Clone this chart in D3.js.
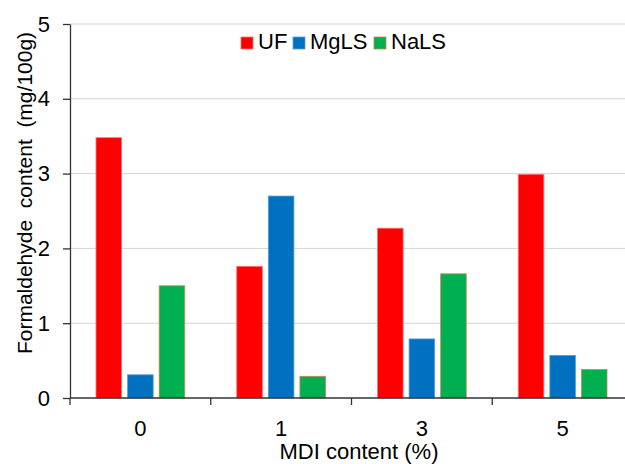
<!DOCTYPE html>
<meta charset="utf-8">
<style>
body { margin: 0; background: #fff; }
text { font-family: "Liberation Sans", Arial, sans-serif; fill: #000; }
.grid line { stroke: #d4d4d4; stroke-width: 1px; }
.axis path, .axis line { stroke: #333; stroke-width: 1.3px; }
</style>
<svg width="625" height="464"></svg>
<script src="https://cdn.jsdelivr.net/npm/d3@7"></script>
<script>

var categories = ["0", "1", "3", "5"];
var series = ["UF", "MgLS", "NaLS"];
var ufValues = [3.48, 1.76, 2.27, 2.99];
var mglsValues = [0.31, 2.70, 0.79, 0.57];
var nalsValues = [1.50, 0.29, 1.66, 0.38];
var yTicks = [0, 1, 2, 3, 4, 5];

var colors = { UF: "#ff0000", MgLS: "#0070c0", NaLS: "#00b050" };
var strokes = { UF: "#ff7070", MgLS: "#5a9fd6", NaLS: "#c8874a" };

var svg = d3.select("svg");
var mLeft = 70, mRight = 633, mTop = 24, mBottom = 398;

var x = d3.scaleBand().domain(categories).range([mLeft, mRight]).padding(0);
var xs = d3.scaleBand().domain(series).range([26, x.bandwidth() - 26]).paddingInner(0.19);
var y = d3.scaleLinear().domain([0, 5]).range([mBottom, mTop]);

var rows = categories.map(function(c, i) {
  return { cat: c, UF: ufValues[i], MgLS: mglsValues[i], NaLS: nalsValues[i] };
});

// gridlines
svg.append("g").attr("class", "grid")
  .selectAll("line")
  .data(yTicks.slice(1))
  .enter().append("line")
  .attr("x1", mLeft).attr("x2", 625)
  .attr("y1", function(d) { return y(d); })
  .attr("y2", function(d) { return y(d); });

// bars
var groups = svg.append("g").selectAll("g")
  .data(rows)
  .enter().append("g")
  .attr("transform", function(d) { return "translate(" + x(d.cat) + ",0)"; });

groups.selectAll("rect")
  .data(function(d) { return series.map(function(s) { return { key: s, value: d[s] }; }); })
  .enter().append("rect")
  .attr("x", function(d) { return xs(d.key); })
  .attr("width", xs.bandwidth())
  .attr("y", function(d) { return y(d.value); })
  .attr("height", function(d) { return mBottom - y(d.value); })
  .attr("fill", function(d) { return colors[d.key]; })
  .attr("stroke", function(d) { return strokes[d.key]; })
  .attr("stroke-width", 0.8);

// y axis
var yAxis = svg.append("g").attr("class", "axis")
  .attr("transform", "translate(" + mLeft + ",0)")
  .call(d3.axisLeft(y).tickValues(yTicks).tickFormat(d3.format("d"))
    .tickSize(7).tickPadding(13).tickSizeOuter(0));
yAxis.selectAll("text").style("font-size", "22px").attr("fill", "#000")
  .attr("font-family", "Liberation Sans, Arial, sans-serif");

// x axis: ticks between categories
var xAxis = svg.append("g").attr("class", "axis")
  .attr("transform", "translate(0," + mBottom + ")");
xAxis.append("line").attr("x1", mLeft).attr("x2", 625).attr("y1", 0).attr("y2", 0);
xAxis.selectAll("line.tk")
  .data(categories)
  .enter().append("line").attr("class", "tk")
  .attr("x1", function(d) { return x(d); })
  .attr("x2", function(d) { return x(d); })
  .attr("y1", 0).attr("y2", 7);
xAxis.selectAll("text")
  .data(categories)
  .enter().append("text")
  .attr("x", function(d) { return x(d) + x.bandwidth() / 2; })
  .attr("y", 38)
  .attr("text-anchor", "middle")
  .style("font-size", "22px")
  .text(function(d) { return d; });

// axis titles
svg.append("text")
  .attr("x", 359).attr("y", 459)
  .attr("text-anchor", "middle")
  .style("font-size", "22px")
  .text("MDI content (%)");

svg.append("text")
  .attr("transform", "translate(32,193) rotate(-90)")
  .attr("text-anchor", "middle")
  .style("font-size", "21px")
  .style("white-space", "pre")
  .text("Formaldehyde  content  (mg/100g)");

// legend
var legendX = [241, 293, 374];
var legend = svg.append("g").selectAll("g")
  .data(series)
  .enter().append("g")
  .attr("transform", function(d, i) { return "translate(" + legendX[i] + ",37)"; });
legend.append("rect")
  .attr("width", 12).attr("height", 12)
  .attr("fill", function(d) { return colors[d]; })
  .attr("stroke", function(d) { return strokes[d]; })
  .attr("stroke-width", 0.8);
legend.append("text")
  .attr("x", 17).attr("y", 12)
  .style("font-size", "22px")
  .text(function(d) { return d; });

</script>
